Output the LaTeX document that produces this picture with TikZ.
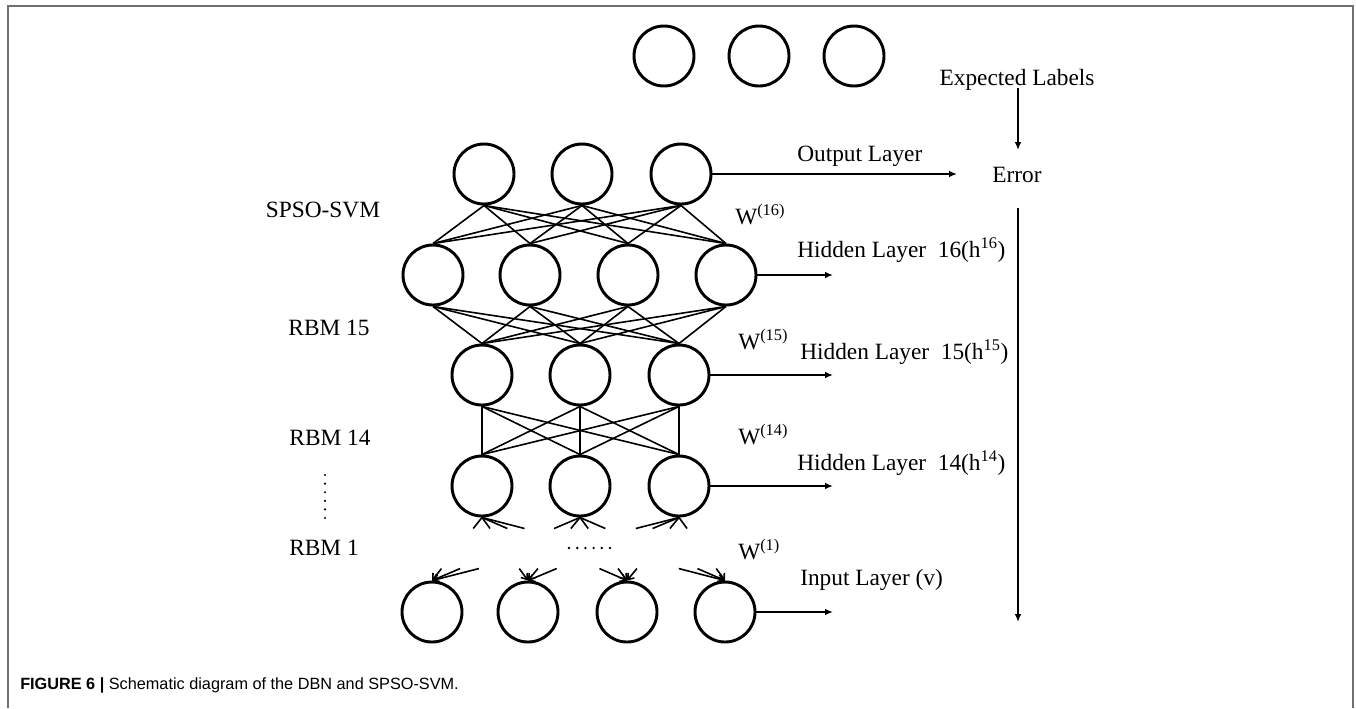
\documentclass[tikz,border=0pt]{standalone}
\usepackage{fontspec}
\setmainfont{Liberation Serif}
\newfontfamily\capfont{Liberation Sans}
\usetikzlibrary{arrows.meta,calc}
\definecolor{framegray}{HTML}{707070}
\begin{document}
\begin{tikzpicture}[x=0.75pt,y=-0.75pt,
  neuron/.style={circle,draw,line width=2.2pt,minimum size=45pt,inner sep=0pt},
  conn/.style={line width=1.2pt},
  outarrow/.style={line width=1.6pt,-{Latex[length=6pt,width=5pt]}},
  lbl/.style={font=\fontsize{17.5}{20}\selectfont,inner sep=0pt},
  capt/.style={font=\capfont\fontsize{12.2}{14}\selectfont,inner sep=0pt},
  dotmark/.style={fill=black}
  ]
\useasboundingbox (0,0) rectangle (1356,708);
% frame
\draw[framegray,line width=1.1pt] (8,708) -- (8,6) -- (1353,6) -- (1353,708);

% expected label circles
\foreach \x [count=\k] in {664,759,854} \node[neuron] (exp-\k) at (\x,56) {};
% output layer
\foreach \x [count=\k] in {484,582,681} \node[neuron] (out-\k) at (\x,174) {};
% hidden 16
\foreach \x [count=\k] in {433,530,628,726} \node[neuron] (h16-\k) at (\x,275) {};
% hidden 15
\foreach \x [count=\k] in {482,580,679} \node[neuron] (h15-\k) at (\x,375) {};
% hidden 14
\foreach \x [count=\k] in {482,580,679} \node[neuron] (h14-\k) at (\x,486) {};
% input
\foreach \x [count=\k] in {432,528,627,725} \node[neuron] (in-\k) at (\x,612) {};

% connections
\foreach \i in {1,2,3} \foreach \j in {1,...,4} \draw[conn] (out-\i.south) -- (h16-\j.north);
\foreach \i in {1,...,4} \foreach \j in {1,2,3} \draw[conn] (h16-\i.south) -- (h15-\j.north);
\foreach \i in {1,2,3} \foreach \j in {1,2,3} \draw[conn] (h15-\i.south) -- (h14-\j.north);
\foreach \i in {1,2,3} \foreach \j in {1,...,4} {
  \draw[conn] (h14-\i.south) -- ($(h14-\i.south)!0.175!(in-\j.north)$);
  \draw[conn,-{Straight Barb[length=4pt,width=6pt]}] ($(h14-\i.south)!0.81!(in-\j.north)$) -- (in-\j.north);
}

% dots
\foreach \k in {0,...,5} \fill[dotmark] (569+8.2*\k,548) circle (1pt);
\foreach \k in {0,...,5} \fill[dotmark] (325,475+8.6*\k) circle (0.9pt);

% arrow end points
\coordinate (oe) at (957,174);
\coordinate (h16e) at (833,275);
\coordinate (h15e) at (833,375);
\coordinate (h14e) at (833,486);
\coordinate (ine) at (833,612);
\coordinate (ea) at (1018,88);
\coordinate (eb) at (1018,150);
\coordinate (ec) at (1018,208);
\coordinate (ed) at (1018,622);

\draw[outarrow] (out-3.east) -- (oe);
\draw[outarrow] (h16-4.east) -- (h16e);
\draw[outarrow] (h15-3.east) -- (h15e);
\draw[outarrow] (h14-3.east) -- (h14e);
\draw[outarrow] (in-4.east) -- (ine);
\draw[outarrow] (ea) -- (eb);
\draw[outarrow] (ec) -- (ed);

% right labels
\node[lbl,anchor=base] (explbl) at (1017,85) {Expected Labels};
\node[lbl,anchor=base] (err) at (1017,182) {Error};
\node[lbl,anchor=base west] (olbl) at (797,161) {Output Layer};
\node[lbl,anchor=base west] (l16) at (797,257) {Hidden Layer~~16(h\textsuperscript{16})};
\node[lbl,anchor=base west] (l15) at (800,359) {Hidden Layer~~15(h\textsuperscript{15})};
\node[lbl,anchor=base west] (l14) at (797,470) {Hidden Layer~~14(h\textsuperscript{14})};
\node[lbl,anchor=base west] (lin) at (800,585) {Input Layer (v)};
\node[lbl,anchor=base west] (w16) at (735,224) {W\textsuperscript{(16)}};
\node[lbl,anchor=base west] (w15) at (738,349) {W\textsuperscript{(15)}};
\node[lbl,anchor=base west] (w14) at (738,444) {W\textsuperscript{(14)}};
\node[lbl,anchor=base west] (w1) at (738,559) {W\textsuperscript{(1)}};

% left labels
\node[lbl,anchor=base] (svm) at (323,217) {SPSO-SVM};
\node[lbl,anchor=base] (r15) at (329,335) {RBM 15};
\node[lbl,anchor=base] (r14) at (330,445) {RBM 14};
\node[lbl,anchor=base] (r1) at (324,555) {RBM 1};

% caption
\node[capt,anchor=base west] (cap) at (20,689) {\textbf{FIGURE 6 |} Schematic diagram of the DBN and SPSO-SVM.};
\end{tikzpicture}
\end{document}
